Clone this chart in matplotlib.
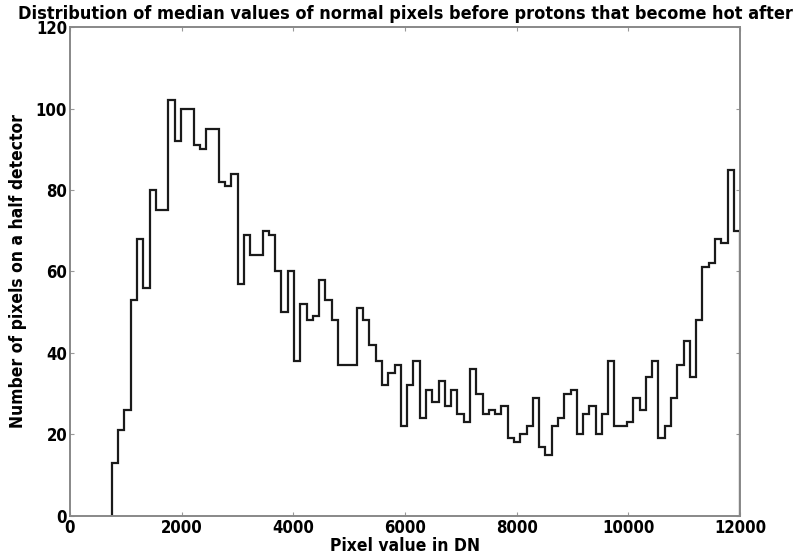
import numpy as np
import matplotlib
matplotlib.use("Agg")
import matplotlib.pyplot as plt

# -----------------------------
# HISTOGRAM DATA (counts per bin)
# -----------------------------
bin_start = 750
bin_stop = 12000
n_bins = 100
counts = [
    13, 21, 26, 53, 68, 56, 80, 75, 75, 102,
    92, 100, 100, 91, 90, 95, 95, 82, 81, 84,
    57, 69, 64, 64, 70, 69, 60, 50, 60, 38,
    52, 48, 49, 58, 53, 48, 37, 37, 37, 51,
    48, 42, 38, 32, 35, 37, 22, 32, 38, 24,
    31, 28, 33, 27, 31, 25, 23, 36, 30, 25,
    26, 25, 27, 19, 18, 20, 22, 29, 17, 15,
    22, 24, 30, 31, 20, 25, 27, 20, 25, 38,
    22, 22, 23, 29, 26, 34, 38, 19, 22, 29,
    37, 43, 34, 48, 61, 62, 68, 67, 85, 70,
]
edges = np.linspace(bin_start, bin_stop, n_bins + 1)
centers = 0.5 * (edges[:-1] + edges[1:])

xticks = [0, 2000, 4000, 6000, 8000, 10000, 12000]
yticks = [0, 20, 40, 60, 80, 100, 120]

plt.rcParams['font.family'] = ['DejaVu Sans']
plt.rcParams['font.weight'] = 'bold'
plt.rcParams['font.stretch'] = 'condensed'

fig = plt.figure(figsize=(7.95, 5.54), dpi=100)
ax = fig.add_axes([0.088, 0.069, 0.843, 0.882])

ax.hist(centers, bins=edges, weights=counts, histtype='step',
        color='#1a1a1a', linewidth=1.6)

ax.set_xlim(0, 12000)
ax.set_ylim(0, 120)
ax.set_xticks(xticks)
ax.set_yticks(yticks)
ax.tick_params(direction='in', top=True, right=True, length=3, width=0.8,
               labelsize=12, pad=2, color='#999999')
for lab in ax.get_xticklabels() + ax.get_yticklabels():
    lab.set_fontweight('bold')
for sp in ax.spines.values():
    sp.set_color('#888888')
    sp.set_linewidth(1.4)

ax.set_xlabel("Pixel value in DN", fontsize=12.5, fontweight='bold', labelpad=0)
ax.set_ylabel("Number of pixels on a half detector", fontsize=12.5,
              fontweight='bold', labelpad=6)
ax.set_title("Distribution of median values of normal pixels before protons that become hot after",
             fontsize=13, fontweight='bold', pad=6)

fig.savefig("out.png", dpi=100)
